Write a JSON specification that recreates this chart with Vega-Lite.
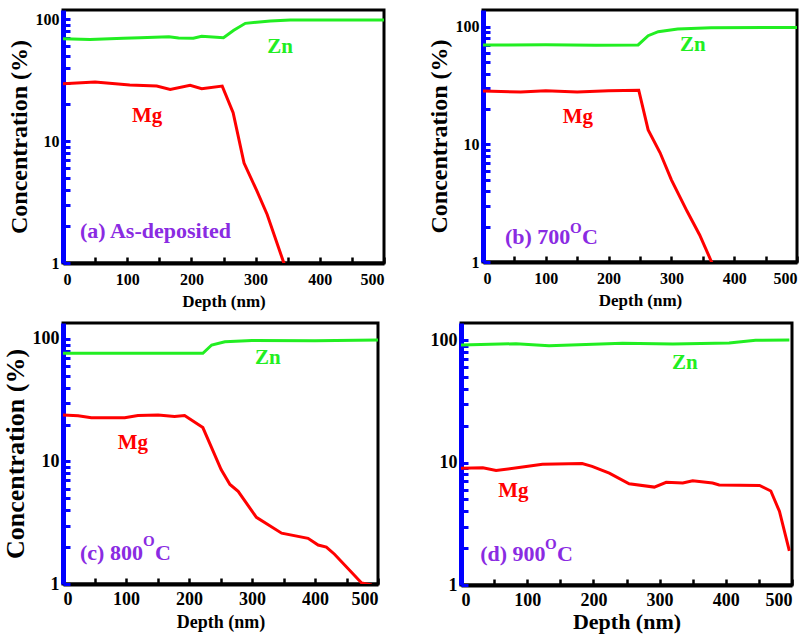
{
"$schema": "https://vega.github.io/schema/vega-lite/v6.json",
"background": "white",
"padding": {"left": 0, "top": 8, "right": 2, "bottom": 2},
"datasets": {
"profiles": [
{"panel":"a","element":"Zn","depth":0,"conc":68.9},{"panel":"a","element":"Zn","depth":42,"conc":68.1},{"panel":"a","element":"Zn","depth":94,"conc":69.5},{"panel":"a","element":"Zn","depth":120,"conc":70.3},{"panel":"a","element":"Zn","depth":165,"conc":71.6},{"panel":"a","element":"Zn","depth":180,"conc":69.9},{"panel":"a","element":"Zn","depth":203,"conc":69.5},{"panel":"a","element":"Zn","depth":216,"conc":72.1},{"panel":"a","element":"Zn","depth":250,"conc":70.3},{"panel":"a","element":"Zn","depth":266,"conc":80.8},{"panel":"a","element":"Zn","depth":284,"conc":92.2},{"panel":"a","element":"Zn","depth":323,"conc":96.3},{"panel":"a","element":"Zn","depth":354,"conc":98.2},{"panel":"a","element":"Zn","depth":500,"conc":98.2},
{"panel":"a","element":"Mg","depth":0,"conc":29.5},{"panel":"a","element":"Mg","depth":50,"conc":30.4},{"panel":"a","element":"Mg","depth":104,"conc":28.8},{"panel":"a","element":"Mg","depth":146,"conc":28.2},{"panel":"a","element":"Mg","depth":167,"conc":26.5},{"panel":"a","element":"Mg","depth":198,"conc":28.6},{"panel":"a","element":"Mg","depth":216,"conc":26.8},{"panel":"a","element":"Mg","depth":248,"conc":28.2},{"panel":"a","element":"Mg","depth":265,"conc":17.1},{"panel":"a","element":"Mg","depth":282,"conc":6.6},{"panel":"a","element":"Mg","depth":302,"conc":3.9},{"panel":"a","element":"Mg","depth":318,"conc":2.5},{"panel":"a","element":"Mg","depth":344,"conc":1.0},{"panel":"a","element":"Mg","depth":348,"conc":0.9},
{"panel":"b","element":"Zn","depth":0,"conc":70.3},{"panel":"b","element":"Zn","depth":100,"conc":70.6},{"panel":"b","element":"Zn","depth":180,"conc":70},{"panel":"b","element":"Zn","depth":247,"conc":70.3},{"panel":"b","element":"Zn","depth":263,"conc":84.3},{"panel":"b","element":"Zn","depth":279,"conc":91.2},{"panel":"b","element":"Zn","depth":310,"conc":96.1},{"panel":"b","element":"Zn","depth":363,"conc":98.6},{"panel":"b","element":"Zn","depth":500,"conc":99},
{"panel":"b","element":"Mg","depth":0,"conc":28.5},{"panel":"b","element":"Mg","depth":60,"conc":28},{"panel":"b","element":"Mg","depth":100,"conc":28.6},{"panel":"b","element":"Mg","depth":150,"conc":28},{"panel":"b","element":"Mg","depth":200,"conc":28.6},{"panel":"b","element":"Mg","depth":248,"conc":29},{"panel":"b","element":"Mg","depth":263,"conc":13.3},{"panel":"b","element":"Mg","depth":282,"conc":8.5},{"panel":"b","element":"Mg","depth":300,"conc":5.0},{"panel":"b","element":"Mg","depth":325,"conc":2.7},{"panel":"b","element":"Mg","depth":345,"conc":1.7},{"panel":"b","element":"Mg","depth":364,"conc":1.0},{"panel":"b","element":"Mg","depth":368,"conc":0.9},
{"panel":"c","element":"Zn","depth":0,"conc":76.4},{"panel":"c","element":"Zn","depth":100,"conc":76.6},{"panel":"c","element":"Zn","depth":222,"conc":76.4},{"panel":"c","element":"Zn","depth":236,"conc":89.3},{"panel":"c","element":"Zn","depth":257,"conc":95},{"panel":"c","element":"Zn","depth":300,"conc":97},{"panel":"c","element":"Zn","depth":400,"conc":96.5},{"panel":"c","element":"Zn","depth":500,"conc":98},
{"panel":"c","element":"Mg","depth":0,"conc":24},{"panel":"c","element":"Mg","depth":24,"conc":23.6},{"panel":"c","element":"Mg","depth":45,"conc":22.8},{"panel":"c","element":"Mg","depth":98,"conc":22.8},{"panel":"c","element":"Mg","depth":119,"conc":23.7},{"panel":"c","element":"Mg","depth":151,"conc":24},{"panel":"c","element":"Mg","depth":177,"conc":23.3},{"panel":"c","element":"Mg","depth":193,"conc":23.7},{"panel":"c","element":"Mg","depth":222,"conc":18.9},{"panel":"c","element":"Mg","depth":251,"conc":8.6},{"panel":"c","element":"Mg","depth":265,"conc":6.5},{"panel":"c","element":"Mg","depth":278,"conc":5.7},{"panel":"c","element":"Mg","depth":307,"conc":3.5},{"panel":"c","element":"Mg","depth":347,"conc":2.6},{"panel":"c","element":"Mg","depth":389,"conc":2.36},{"panel":"c","element":"Mg","depth":405,"conc":2.08},{"panel":"c","element":"Mg","depth":418,"conc":2.0},{"panel":"c","element":"Mg","depth":431,"conc":1.75},{"panel":"c","element":"Mg","depth":474,"conc":1.02},{"panel":"c","element":"Mg","depth":490,"conc":0.98},
{"panel":"d","element":"Zn","depth":0,"conc":91},{"panel":"d","element":"Zn","depth":83,"conc":93.3},{"panel":"d","element":"Zn","depth":133,"conc":89.9},{"panel":"d","element":"Zn","depth":244,"conc":94},{"panel":"d","element":"Zn","depth":320,"conc":92.7},{"panel":"d","element":"Zn","depth":405,"conc":94.6},{"panel":"d","element":"Zn","depth":445,"conc":99.4},{"panel":"d","element":"Zn","depth":496,"conc":100},
{"panel":"d","element":"Mg","depth":0,"conc":8.97},{"panel":"d","element":"Mg","depth":33,"conc":9.05},{"panel":"d","element":"Mg","depth":53,"conc":8.6},{"panel":"d","element":"Mg","depth":93,"conc":9.2},{"panel":"d","element":"Mg","depth":123,"conc":9.66},{"panel":"d","element":"Mg","depth":183,"conc":9.8},{"panel":"d","element":"Mg","depth":198,"conc":9.3},{"panel":"d","element":"Mg","depth":224,"conc":8.2},{"panel":"d","element":"Mg","depth":254,"conc":6.7},{"panel":"d","element":"Mg","depth":292,"conc":6.3},{"panel":"d","element":"Mg","depth":310,"conc":6.9},{"panel":"d","element":"Mg","depth":335,"conc":6.8},{"panel":"d","element":"Mg","depth":350,"conc":7.1},{"panel":"d","element":"Mg","depth":380,"conc":6.8},{"panel":"d","element":"Mg","depth":390,"conc":6.55},{"panel":"d","element":"Mg","depth":451,"conc":6.5},{"panel":"d","element":"Mg","depth":468,"conc":5.85},{"panel":"d","element":"Mg","depth":481,"conc":4.0},{"panel":"d","element":"Mg","depth":496,"conc":1.9}
],
"notes": [
{"panel":"a","kind":"elem","element":"Zn","text":"Zn","depth":338,"conc":59},
{"panel":"a","kind":"elem","element":"Mg","text":"Mg","depth":131,"conc":16},
{"panel":"a","kind":"main","element":"","text":"(a) As-deposited","depth":26.5,"conc":1.83},
{"panel":"b","kind":"elem","element":"Zn","text":"Zn","depth":334,"conc":70},
{"panel":"b","kind":"elem","element":"Mg","text":"Mg","depth":151,"conc":17.1},
{"panel":"b","kind":"main","element":"","text":"(b) 700","depth":35,"conc":1.63},
{"panel":"b","kind":"sup","element":"","text":"O","depth":138.5,"conc":1.95},
{"panel":"b","kind":"main","element":"","text":"C","depth":157.6,"conc":1.63},
{"panel":"c","kind":"elem","element":"Zn","text":"Zn","depth":325,"conc":70},
{"panel":"c","kind":"elem","element":"Mg","text":"Mg","depth":111,"conc":14.2},
{"panel":"c","kind":"main","element":"","text":"(c) 800","depth":27,"conc":1.79},
{"panel":"c","kind":"sup","element":"","text":"O","depth":127,"conc":2.24},
{"panel":"c","kind":"main","element":"","text":"C","depth":146,"conc":1.79},
{"panel":"d","kind":"elem","element":"Zn","text":"Zn","depth":338,"conc":65},
{"panel":"d","kind":"elem","element":"Mg","text":"Mg","depth":79,"conc":5.85},
{"panel":"d","kind":"main","element":"","text":"(d) 900","depth":29,"conc":1.79},
{"panel":"d","kind":"sup","element":"","text":"O","depth":127,"conc":2.16},
{"panel":"d","kind":"main","element":"","text":"C","depth":145,"conc":1.79}
]
},
"config": {
"font": "Liberation Serif",
"view": {"stroke": "black", "strokeWidth": 3, "fill": "white"},
"axis": {"grid": false, "labelFont": "Liberation Serif", "labelFontWeight": "bold", "labelColor": "black", "titleFont": "Liberation Serif", "titleFontWeight": "bold", "titleColor": "black", "labelOverlap": false},
"axisX": {"domainColor": "black", "domainWidth": 4, "tickColor": "black", "tickWidth": 2.5, "tickSize": -6, "labelPadding": 14, "titlePadding": 6},
"axisY": {"domainColor": "#0000ff", "domainWidth": 5, "tickColor": "#0000ff", "tickWidth": 3, "tickSize": -7, "labelPadding": 11, "titlePadding": 4}
},
"concat": [
{"spacing": 38, "hconcat": [
{"width": 321, "height": 253,
 "encoding": {
  "x": {"field": "depth", "type": "quantitative", "scale": {"domain": [0, 500], "nice": false, "zero": false}, "axis": {"title": "Depth (nm)", "values": [0,50,100,150,200,250,300,350,400,450,500], "labelExpr": "datum.value % 100 === 0 ? datum.label : ''", "labelFontSize": 16, "titleFontSize": 17}},
  "y": {"field": "conc", "type": "quantitative", "scale": {"type": "log", "domain": [1, 118.6], "nice": false}, "axis": {"title": "Concentration (%)", "values": [1,2,3,4,5,6,7,8,9,10,20,30,40,50,60,70,80,90,100], "format": "d", "labelExpr": "datum.value === 1 || datum.value === 10 || datum.value === 100 ? datum.label : ''", "labelFontSize": 16, "titleFontSize": 24}}
 },
 "layer": [
  {"data": {"name": "profiles"}, "transform": [{"filter": "datum.panel === 'a'"}], "mark": {"type": "line", "strokeWidth": 3, "clip": true}, "encoding": {"color": {"field": "element", "type": "nominal", "scale": {"domain": ["Zn", "Mg"], "range": ["#22ee22", "#ff0000"]}, "legend": null}}},
  {"data": {"name": "notes"}, "transform": [{"filter": "datum.panel === 'a' && datum.kind === 'elem'"}], "mark": {"type": "text", "fontSize": 21, "fontWeight": "bold", "font": "Liberation Serif", "align": "center", "baseline": "middle"}, "encoding": {"text": {"field": "text"}, "color": {"field": "element", "type": "nominal", "scale": {"domain": ["Zn", "Mg"], "range": ["#22ee22", "#ff0000"]}, "legend": null}}},
  {"data": {"name": "notes"}, "transform": [{"filter": "datum.panel === 'a' && datum.kind === 'main'"}], "mark": {"type": "text", "fontSize": 22, "fontWeight": "bold", "font": "Liberation Serif", "align": "left", "baseline": "middle", "color": "#8a2be2"}, "encoding": {"text": {"field": "text"}}}
 ]
},
{"width": 314, "height": 252,
 "encoding": {
  "x": {"field": "depth", "type": "quantitative", "scale": {"domain": [0, 500], "nice": false, "zero": false}, "axis": {"title": "Depth (nm)", "values": [0,50,100,150,200,250,300,350,400,450,500], "labelExpr": "datum.value % 100 === 0 ? datum.label : ''", "labelFontSize": 16, "titleFontSize": 17}},
  "y": {"field": "conc", "type": "quantitative", "scale": {"type": "log", "domain": [1, 139.5], "nice": false}, "axis": {"title": "Concentration (%)", "values": [1,2,3,4,5,6,7,8,9,10,20,30,40,50,60,70,80,90,100], "format": "d", "labelExpr": "datum.value === 1 || datum.value === 10 || datum.value === 100 ? datum.label : ''", "labelFontSize": 16, "titleFontSize": 24}}
 },
 "layer": [
  {"data": {"name": "profiles"}, "transform": [{"filter": "datum.panel === 'b'"}], "mark": {"type": "line", "strokeWidth": 3, "clip": true}, "encoding": {"color": {"field": "element", "type": "nominal", "scale": {"domain": ["Zn", "Mg"], "range": ["#22ee22", "#ff0000"]}, "legend": null}}},
  {"data": {"name": "notes"}, "transform": [{"filter": "datum.panel === 'b' && datum.kind === 'elem'"}], "mark": {"type": "text", "fontSize": 21, "fontWeight": "bold", "font": "Liberation Serif", "align": "center", "baseline": "middle"}, "encoding": {"text": {"field": "text"}, "color": {"field": "element", "type": "nominal", "scale": {"domain": ["Zn", "Mg"], "range": ["#22ee22", "#ff0000"]}, "legend": null}}},
  {"data": {"name": "notes"}, "transform": [{"filter": "datum.panel === 'b' && datum.kind === 'main'"}], "mark": {"type": "text", "fontSize": 22, "fontWeight": "bold", "font": "Liberation Serif", "align": "left", "baseline": "middle", "color": "#8a2be2"}, "encoding": {"text": {"field": "text"}}},
  {"data": {"name": "notes"}, "transform": [{"filter": "datum.panel === 'b' && datum.kind === 'sup'"}], "mark": {"type": "text", "fontSize": 15, "fontWeight": "bold", "font": "Liberation Serif", "align": "left", "baseline": "middle", "color": "#8a2be2"}, "encoding": {"text": {"field": "text"}}}
 ]
}
]},
{"spacing": 47, "hconcat": [
{"width": 315, "height": 261,
 "encoding": {
  "x": {"field": "depth", "type": "quantitative", "scale": {"domain": [0, 500], "nice": false, "zero": false}, "axis": {"title": "Depth (nm)", "values": [0,50,100,150,200,250,300,350,400,450,500], "labelExpr": "datum.value % 100 === 0 ? datum.label : ''", "labelFontSize": 18, "titleFontSize": 18, "labelPadding": 12, "titlePadding": 5}},
  "y": {"field": "conc", "type": "quantitative", "scale": {"type": "log", "domain": [1, 135], "nice": false}, "axis": {"title": "Concentration (%)", "values": [1,2,3,4,5,6,7,8,9,10,20,30,40,50,60,70,80,90,100], "format": "d", "labelExpr": "datum.value === 1 || datum.value === 10 || datum.value === 100 ? datum.label : ''", "labelFontSize": 18, "titleFontSize": 26}}
 },
 "layer": [
  {"data": {"name": "profiles"}, "transform": [{"filter": "datum.panel === 'c'"}], "mark": {"type": "line", "strokeWidth": 3, "clip": true}, "encoding": {"color": {"field": "element", "type": "nominal", "scale": {"domain": ["Zn", "Mg"], "range": ["#22ee22", "#ff0000"]}, "legend": null}}},
  {"data": {"name": "notes"}, "transform": [{"filter": "datum.panel === 'c' && datum.kind === 'elem'"}], "mark": {"type": "text", "fontSize": 21, "fontWeight": "bold", "font": "Liberation Serif", "align": "center", "baseline": "middle"}, "encoding": {"text": {"field": "text"}, "color": {"field": "element", "type": "nominal", "scale": {"domain": ["Zn", "Mg"], "range": ["#22ee22", "#ff0000"]}, "legend": null}}},
  {"data": {"name": "notes"}, "transform": [{"filter": "datum.panel === 'c' && datum.kind === 'main'"}], "mark": {"type": "text", "fontSize": 22, "fontWeight": "bold", "font": "Liberation Serif", "align": "left", "baseline": "middle", "color": "#8a2be2"}, "encoding": {"text": {"field": "text"}}},
  {"data": {"name": "notes"}, "transform": [{"filter": "datum.panel === 'c' && datum.kind === 'sup'"}], "mark": {"type": "text", "fontSize": 15, "fontWeight": "bold", "font": "Liberation Serif", "align": "left", "baseline": "middle", "color": "#8a2be2"}, "encoding": {"text": {"field": "text"}}}
 ]
},
{"width": 331, "height": 262,
 "encoding": {
  "x": {"field": "depth", "type": "quantitative", "scale": {"domain": [0, 500], "nice": false, "zero": false}, "axis": {"title": "Depth (nm)", "values": [0,50,100,150,200,250,300,350,400,450,500], "labelExpr": "datum.value % 100 === 0 ? datum.label : ''", "labelFontSize": 18, "titleFontSize": 22, "labelPadding": 12, "titlePadding": 2}},
  "y": {"field": "conc", "type": "quantitative", "scale": {"type": "log", "domain": [1, 137.7], "nice": false}, "axis": {"title": null, "values": [1,2,3,4,5,6,7,8,9,10,20,30,40,50,60,70,80,90,100], "format": "d", "labelExpr": "datum.value === 1 || datum.value === 10 || datum.value === 100 ? datum.label : ''", "labelFontSize": 18}}
 },
 "layer": [
  {"data": {"name": "profiles"}, "transform": [{"filter": "datum.panel === 'd'"}], "mark": {"type": "line", "strokeWidth": 3, "clip": true}, "encoding": {"color": {"field": "element", "type": "nominal", "scale": {"domain": ["Zn", "Mg"], "range": ["#22ee22", "#ff0000"]}, "legend": null}}},
  {"data": {"name": "notes"}, "transform": [{"filter": "datum.panel === 'd' && datum.kind === 'elem'"}], "mark": {"type": "text", "fontSize": 21, "fontWeight": "bold", "font": "Liberation Serif", "align": "center", "baseline": "middle"}, "encoding": {"text": {"field": "text"}, "color": {"field": "element", "type": "nominal", "scale": {"domain": ["Zn", "Mg"], "range": ["#22ee22", "#ff0000"]}, "legend": null}}},
  {"data": {"name": "notes"}, "transform": [{"filter": "datum.panel === 'd' && datum.kind === 'main'"}], "mark": {"type": "text", "fontSize": 22, "fontWeight": "bold", "font": "Liberation Serif", "align": "left", "baseline": "middle", "color": "#8a2be2"}, "encoding": {"text": {"field": "text"}}},
  {"data": {"name": "notes"}, "transform": [{"filter": "datum.panel === 'd' && datum.kind === 'sup'"}], "mark": {"type": "text", "fontSize": 15, "fontWeight": "bold", "font": "Liberation Serif", "align": "left", "baseline": "middle", "color": "#8a2be2"}, "encoding": {"text": {"field": "text"}}}
 ]
}
]}
],
"columns": 1,
"align": "none",
"spacing": 10
}
